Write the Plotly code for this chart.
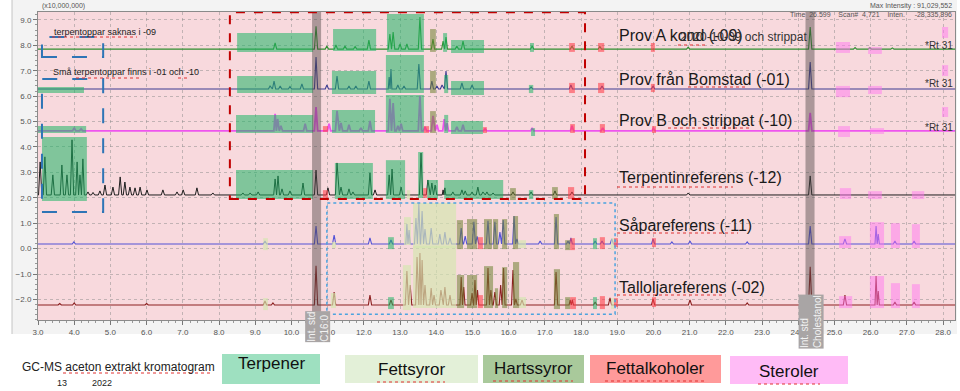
import plotly.graph_objects as go

# ---------------- axis extents ----------------
RT_MIN, RT_MAX = 3.0, 28.33          # retention time, min
INT_MIN, INT_MAX = -2.81, 9.31       # intensity, x10,000,000

# ---------------- stacked chromatogram baselines ----------------
base_prov_a = 7.85
base_bomstad = 6.28
base_prov_b = 4.63
base_terpentin = 2.11
base_sapa = 0.18
base_tallolja = -2.22

# ---------------- peaks: retention time (min) / height (x10,000,000) ----------------
prov_a_rt = [9.55, 10.68, 10.98, 11.23, 11.48, 11.76, 12.14, 12.72, 12.81, 13.00, 13.19, 13.55,
             13.91, 14.19, 14.27, 14.57, 14.74, 16.65, 17.75, 18.52, 20.96, 24.33, 25.57, 25.98, 26.60]
prov_a_h = [0.24, 0.90, 0.12, 0.16, 0.12, 0.10, 0.35, 0.59, 0.67, 0.20, 0.20, 1.26,
            0.39, 0.31, 0.47, 0.12, 0.31, 0.12, 0.12, 0.10, 0.08, 0.87, 0.06, 0.06, 0.05]

bomstad_rt = [9.41, 9.52, 9.69, 9.96, 10.29, 10.68, 10.98, 11.26, 11.59, 11.78, 12.14, 12.70, 12.75,
              12.94, 13.11, 13.52, 13.88, 14.02, 14.16, 14.27, 14.71, 14.99, 16.62, 17.72, 18.58,
              19.99, 24.33]
bomstad_h = [0.12, 0.31, 0.12, 0.10, 0.20, 1.26, 0.16, 0.51, 0.12, 0.12, 0.31, 0.47, 0.79,
             0.16, 0.12, 0.98, 0.31, 0.12, 0.16, 0.71, 0.24, 0.16, 0.08, 0.16, 0.12,
             0.12, 1.06]

prov_b_rt = [4.00, 4.19, 9.55, 9.62, 9.71, 10.38, 10.68, 11.04, 11.26, 11.37, 11.59, 11.92, 12.17,
             12.72, 12.81, 12.94, 13.03, 13.55, 13.69, 13.91, 14.02, 14.22, 14.30, 14.57, 14.74,
             15.35, 16.65, 17.75, 18.60, 20.00, 24.33]
prov_b_h = [0.12, 0.08, 0.67, 0.47, 0.20, 0.28, 0.94, 0.28, 0.79, 0.31, 0.24, 0.12, 0.39,
            1.26, 1.10, 0.20, 0.28, 1.38, 0.16, 0.59, 0.24, 0.47, 0.31, 0.16, 0.24,
            0.08, 0.12, 0.20, 0.12, 0.10, 0.71]

terpentin_rt = [3.06, 3.19, 3.41, 3.66, 3.80, 3.94, 4.08, 4.16, 4.24, 4.38, 4.52, 4.71, 4.85, 5.07,
                5.27, 5.40, 5.54, 5.68, 5.82, 6.01, 6.45, 6.84, 7.01, 7.39, 7.83, 8.66, 8.86, 9.08,
                9.55, 9.63, 9.74, 9.96, 10.32, 10.68, 11.01, 11.26, 11.37, 11.59, 11.70, 12.17,
                12.31, 12.70, 12.78, 13.03, 13.58, 13.77, 13.88, 13.97, 14.19, 14.24, 14.46, 14.71,
                14.80, 14.99, 15.15, 15.29, 15.40, 15.57, 16.12, 16.62, 17.28, 17.75, 20.96, 24.33]
terpentin_h = [1.30, 1.50, 0.79, 1.18, 0.79, 2.17, 1.30, 0.79, 1.42, 0.12, 0.10, 0.16, 0.39, 0.31,
               0.71, 0.51, 0.31, 0.28, 0.31, 0.20, 0.20, 0.12, 0.20, 0.28, 0.08, 0.08, 0.08, 0.12,
               0.63, 0.75, 0.24, 0.16, 0.47, 0.98, 0.28, 1.26, 0.31, 0.24, 0.12, 0.87,
               0.20, 0.79, 1.02, 0.31, 1.65, 0.59, 0.47, 0.39, 0.20, 0.28, 0.12, 0.20,
               0.16, 0.12, 0.31, 0.12, 0.12, 0.08, 0.12, 0.12, 0.16, 0.12, 0.08, 0.75]

sapa_rt = [3.99, 9.27, 10.68, 11.18, 12.17, 12.75, 13.19, 13.25, 13.44, 13.52, 13.61, 13.69, 13.86,
           14.10, 14.24, 14.38, 14.69, 14.80, 15.04, 15.13, 15.43, 15.62, 15.76, 15.85, 16.15,
           16.23, 16.87, 17.31, 17.64, 17.72, 18.39, 18.58, 18.85, 19.99, 20.51, 21.01, 22.59,
           24.33, 25.29, 26.15, 26.21, 26.67, 27.20]
sapa_h = [0.08, 0.12, 0.71, 0.35, 0.24, 0.16, 0.79, 0.55, 1.02, 1.57, 1.30, 0.59, 0.63,
          0.39, 0.47, 0.24, 0.63, 0.31, 0.87, 0.30, 0.91, 0.87, 0.47, 0.94, 1.10,
          0.20, 0.12, 1.06, 0.12, 0.24, 0.12, 0.12, 0.20, 0.20, 0.08, 0.12, 0.08,
          0.71, 0.20, 0.71, 0.39, 0.12, 0.12]

tallolja_rt = [3.60, 4.00, 6.00, 9.27, 9.49, 10.68, 11.18, 12.17, 12.75, 13.19, 13.28, 13.47, 13.55,
               13.61, 13.69, 13.86, 13.94, 14.13, 14.24, 14.38, 14.69, 14.76, 14.99, 15.07, 15.14,
               15.43, 15.51, 15.62, 15.78, 15.86, 16.12, 16.20, 16.37, 17.31, 17.70, 17.76, 18.39,
               18.80, 19.99, 21.01, 22.59, 24.33, 25.29, 26.15, 26.21, 26.67, 27.20]
tallolja_h = [0.06, 0.08, 0.06, 0.16, 0.08, 1.54, 0.51, 0.39, 0.20, 1.34, 0.79, 1.89, 2.05,
              1.77, 0.79, 0.67, 0.39, 0.59, 0.71, 0.39, 1.10, 0.71, 0.47, 0.98, 0.59,
              1.46, 0.59, 0.51, 0.79, 1.46, 1.38, 0.24, 0.20, 1.30, 0.20, 0.20, 0.12,
              0.28, 0.24, 0.20, 0.08, 1.50, 0.39, 1.14, 0.55, 0.12, 0.12]

series_names = ["Prov A kond (-09)", "Prov från Bomstad (-01)", "Prov B och strippat (-10)",
                "Terpentinreferens (-12)", "Såpareferens (-11)", "Talloljareferens (-02)"]
series_colors = ["#2f8f2f", "#3c3c92", "#ee55ee", "#1e1e1e", "#5252d6", "#8c2020"]
series_widths = [1.1, 1.1, 1.8, 1.0, 1.1, 1.1]
series_bases = [base_prov_a, base_bomstad, base_prov_b, base_terpentin, base_sapa, base_tallolja]
series_rt = [prov_a_rt, bomstad_rt, prov_b_rt, terpentin_rt, sapa_rt, tallolja_rt]
series_h = [prov_a_h, bomstad_h, prov_b_h, terpentin_h, sapa_h, tallolja_h]

# ---------------- compound-class regions (rt0, rt1, int0, int1) ----------------
terpener_boxes = [
    (8.50, 10.60, 7.74, 8.48), (11.15, 12.34, 7.78, 8.64), (12.64, 13.66, 7.74, 9.23),
    (14.19, 14.30, 7.74, 8.48), (14.41, 15.32, 7.70, 8.21), (16.59, 16.70, 7.74, 8.09),
    (3.00, 4.27, 6.12, 6.36), (8.50, 10.60, 6.12, 6.79), (11.12, 12.34, 6.08, 6.99),
    (12.61, 13.66, 6.12, 7.62), (14.22, 14.33, 6.12, 6.83), (14.41, 15.32, 6.04, 6.59),
    (16.56, 16.68, 6.12, 6.44),
    (3.00, 4.33, 4.55, 4.82), (8.47, 10.60, 4.55, 5.26), (11.12, 12.31, 4.55, 5.45),
    (12.61, 13.66, 4.55, 6.04), (14.22, 14.33, 4.55, 5.26), (14.41, 15.29, 4.51, 5.02),
    (16.62, 16.73, 4.43, 4.74),
    (3.11, 4.35, 1.87, 4.39), (8.47, 10.60, 1.95, 3.09), (11.20, 12.25, 1.95, 3.37),
    (12.61, 13.14, 1.95, 3.48), (13.50, 13.64, 1.99, 3.80), (13.75, 14.05, 1.95, 2.70),
    (14.22, 15.85, 1.95, 2.70), (16.56, 16.68, 1.95, 2.30),
    (12.67, 12.83, -0.02, 0.45), (18.33, 18.44, -0.02, 0.41),
    (12.67, 12.83, -2.38, -1.91), (18.33, 18.44, -2.38, -1.91),
]
fettsyror_boxes = [
    (13.19, 13.28, 1.95, 2.30),
    (9.22, 9.35, -0.06, 0.41), (11.12, 11.23, 0.02, 0.26), (13.11, 13.30, 0.14, 1.24),
    (13.36, 14.55, 0.02, 1.79), (16.26, 16.48, 0.02, 0.33), (18.83, 18.91, -0.06, 0.41),
    (9.22, 9.35, -2.42, -1.95), (11.09, 11.23, -2.34, -1.75), (13.08, 13.30, -2.42, -0.65),
    (13.36, 14.55, -2.34, 0.10), (16.29, 16.48, -2.34, -1.91), (18.83, 18.91, -2.38, -1.95),
]
hartssyror_boxes = [
    (13.83, 13.99, 7.74, 8.64), (13.83, 13.99, 6.12, 6.99), (13.83, 13.99, 4.55, 5.41),
    (16.04, 16.20, 1.91, 2.38), (17.20, 17.36, 1.95, 2.42),
    (14.57, 14.74, -0.02, 1.12), (14.85, 15.13, -0.02, 1.16), (15.32, 15.54, -0.02, 1.16),
    (15.57, 15.71, -0.02, 1.16), (15.82, 15.96, -0.02, 1.16), (16.12, 16.26, -0.02, 1.28),
    (17.25, 17.39, -0.02, 1.36), (17.56, 17.70, -0.06, 0.33),
    (14.57, 14.77, -2.34, -1.04), (14.85, 15.13, -2.34, -1.04), (15.32, 15.57, -2.34, -0.69),
    (15.62, 15.71, -2.34, -1.56), (15.82, 15.96, -2.34, -0.73), (16.12, 16.29, -2.34, -0.53),
    (17.25, 17.42, -2.38, -0.81), (17.56, 17.70, -2.38, -1.91),
]
fettalkoholer_boxes = [
    (17.67, 17.83, 7.74, 8.09), (18.47, 18.64, 7.74, 8.09), (19.93, 20.04, 7.74, 8.09),
    (17.67, 17.83, 6.12, 6.52), (18.47, 18.64, 6.12, 6.52), (19.93, 20.04, 6.16, 6.48),
    (10.87, 11.01, 4.59, 4.82), (13.66, 13.80, 4.55, 4.82), (15.29, 15.40, 4.55, 4.78),
    (17.70, 17.83, 4.55, 4.90), (18.52, 18.66, 4.55, 4.90), (19.96, 20.07, 4.55, 4.82),
    (10.87, 11.01, 1.95, 2.30), (13.64, 13.75, 1.99, 2.38), (17.64, 17.81, 1.95, 2.42),
    (15.15, 15.29, -0.02, 0.45), (17.70, 17.83, -0.06, 0.41), (18.52, 18.66, -0.02, 0.45),
    (18.91, 19.02, 0.06, 0.41), (19.96, 20.07, 0.06, 0.41),
    (15.15, 15.29, -2.34, -1.83), (17.70, 17.86, -2.38, -1.91), (18.52, 18.66, -2.38, -1.87),
    (18.91, 19.02, -2.30, -1.95), (19.96, 20.07, -2.30, -1.91),
]
steroler_boxes = [
    (25.04, 25.43, 7.70, 8.13), (25.93, 26.31, 7.66, 7.93), (27.97, 28.14, 8.29, 8.72),
    (25.04, 25.43, 5.96, 6.40), (25.93, 26.31, 6.08, 6.40), (27.97, 28.14, 6.79, 7.22),
    (25.10, 25.43, 4.39, 4.82), (25.98, 26.37, 4.51, 4.74), (27.97, 28.14, 5.18, 5.57),
    (25.15, 25.46, 1.95, 2.38), (25.93, 26.31, 1.95, 2.26), (27.14, 27.48, 1.95, 2.26),
    (25.13, 25.46, 0.02, 0.49), (25.98, 26.37, 0.02, 1.04), (26.56, 26.81, 0.02, 1.00),
    (27.14, 27.36, 0.02, 0.96),
    (25.13, 25.49, -2.34, -1.87), (25.98, 26.37, -2.34, -1.08), (26.56, 26.81, -2.34, -1.36),
    (27.14, 27.36, -2.34, -1.40),
]
internal_std_rt = [(10.57, 10.82), (24.20, 24.45)]
internal_std_names = ["Int. std<br>C16:0", "Int. std<br>Cholestanol"]

# highlight frames (rt0, rt1, int0, int1)
terp_frame_red = (8.30, 18.11, 1.95, 9.30)
blue_frame_1 = (3.11, 4.80, 7.54, 8.33)
blue_frame_2 = (3.11, 4.80, 1.44, 6.67)
dotted_frame = (10.98, 18.94, -2.58, 1.79)

legend_names = ["Terpener", "Fettsyror", "Hartssyror", "Fettalkoholer", "Steroler"]
legend_colors = ["#9ee0c0", "#e3f0d8", "#a9c99b", "#ff9a9a", "#ffbbf6"]
box_colors = ["rgba(30,180,100,0.55)", "rgba(212,230,175,0.68)", "rgba(110,130,50,0.55)",
              "rgba(255,60,70,0.58)", "rgba(255,120,240,0.5)"]
box_groups = [terpener_boxes, fettsyror_boxes, hartssyror_boxes, fettalkoholer_boxes, steroler_boxes]

FONT = "Liberation Sans, Arial, sans-serif"
W, H = 960, 391
ML, MR, MT, MB = 38, 5, 12, 71
PW, PH = W - ML - MR, H - MT - MB


def px(x):
    return (x - ML) / PW


def py(y):
    return (H - MB - y) / PH


def chromatogram(base, rts, hs):
    pk = sorted(zip(rts, hs))
    xs, ys = [RT_MIN], [base]
    for i, (t, h) in enumerate(pk):
        gl = t - pk[i - 1][0] if i > 0 else 1.0
        gr = pk[i + 1][0] - t if i < len(pk) - 1 else 1.0
        w = min(0.045, gl / 2, gr / 2)
        xs += [t - w, t, t + w]
        ys += [base, base + h, base]
    xs.append(RT_MAX)
    ys.append(base)
    return xs, ys


fig = go.Figure()
for name, col, lw, base, rts, hs in zip(series_names, series_colors, series_widths,
                                        series_bases, series_rt, series_h):
    xs, ys = chromatogram(base, rts, hs)
    fig.add_trace(go.Scatter(x=xs, y=ys, mode="lines", name=name,
                             line=dict(color=col, width=lw), showlegend=False,
                             hoverinfo="skip"))

shapes = []
# screenshot frame + plot background
shapes.append(dict(type="rect", xref="paper", yref="paper", x0=px(12), x1=px(957), y0=py(334), y1=py(0),
                   fillcolor="#f3f3f3", line=dict(width=0), layer="below"))
shapes.append(dict(type="line", xref="paper", yref="paper", x0=px(12), x1=px(12), y0=py(334), y1=py(0),
                   line=dict(color="#c4c4c4", width=1), layer="below"))
shapes.append(dict(type="rect", xref="paper", yref="paper", x0=0, x1=1, y0=0, y1=1,
                   fillcolor="#f8d9dd", line=dict(width=0), layer="below"))

for grp, col in zip(box_groups, box_colors):
    for (t0, t1, v0, v1) in grp:
        shapes.append(dict(type="rect", xref="x", yref="y", x0=t0, x1=t1, y0=v0, y1=v1,
                           fillcolor=col, line=dict(width=0), layer="above"))

for (t0, t1) in internal_std_rt:
    shapes.append(dict(type="rect", xref="x", yref="y", x0=t0, x1=t1, y0=INT_MIN, y1=INT_MAX,
                       fillcolor="rgba(80,70,70,0.45)", line=dict(width=0), layer="above"))

t0, t1, v0, v1 = terp_frame_red
shapes.append(dict(type="rect", xref="x", yref="y", x0=t0, x1=t1, y0=v0, y1=v1,
                   line=dict(color="#c00000", width=2, dash="dash"), layer="above"))
for fr in (blue_frame_1, blue_frame_2):
    t0, t1, v0, v1 = fr
    shapes.append(dict(type="rect", xref="x", yref="y", x0=t0, x1=t1, y0=v0, y1=v1,
                       line=dict(color="#2e75b6", width=2, dash="longdash"), layer="above"))
t0, t1, v0, v1 = dotted_frame
shapes.append(dict(type="rect", xref="x", yref="y", x0=t0, x1=t1, y0=v0, y1=v1,
                   line=dict(color="#4aa3df", width=1.5, dash="dot"), layer="above"))

# bottom legend boxes (pixel layout)
leg_boxes = [(222, 320, 354, 384), (345, 478, 355, 383), (483, 584, 355, 383),
             (590, 721, 355, 383), (730, 848, 356, 384)]
leg_text_y = [363, 369, 368, 368, 371]
annotations = []
for (x0, x1, y0, y1), col, name, ty in zip(leg_boxes, legend_colors, legend_names, leg_text_y):
    shapes.append(dict(type="rect", xref="paper", yref="paper", x0=px(x0), x1=px(x1),
                       y0=py(y1), y1=py(y0), fillcolor=col, line=dict(width=0), layer="above"))
    annotations.append(dict(xref="paper", yref="paper", x=px((x0 + x1) / 2), y=py(ty),
                            text=name, showarrow=False, xanchor="center", yanchor="middle",
                            font=dict(family=FONT, size=17, color="#111")))

# red spell-check underlines (pixel layout: x0, x1, y)
squiggles = [(52, 137, 37), (76, 142, 78), (178, 190, 78), (678, 707, 45), (688, 747, 87),
             (668, 752, 128), (617, 733, 187), (617, 738, 233), (617, 723, 295),
             (63, 213, 373), (377, 445, 382), (493, 573, 381), (605, 707, 381), (758, 820, 384)]
for (x0, x1, y) in squiggles:
    shapes.append(dict(type="line", xref="paper", yref="paper", x0=px(x0), x1=px(x1),
                       y0=py(y), y1=py(y), line=dict(color="#e03030", width=1, dash="dot"),
                       layer="above"))

# series labels
label_y = [8.37, 6.67, 5.06, 2.78, 0.89, -1.52]
for name, ly in zip(series_names, label_y):
    annotations.append(dict(x=18.99, y=ly, xref="x", yref="y", text=name, showarrow=False,
                            xanchor="left", yanchor="middle",
                            font=dict(family=FONT, size=16, color="#1a1a1a")))
annotations.append(dict(x=20.68, y=8.33, xref="x", yref="y", text="2020-10-09 och strippat",
                        showarrow=False, xanchor="left", yanchor="middle",
                        font=dict(family=FONT, size=12, color="#333")))
for ly in [8.01, 6.48, 4.78]:
    annotations.append(dict(x=RT_MAX, y=ly, xref="x", yref="y", text="*Rt 31", showarrow=False,
                            xanchor="right", yanchor="middle",
                            font=dict(family=FONT, size=10, color="#333")))
annotations.append(dict(x=3.39, y=8.52, xref="x", yref="y", text="terpentoppar saknas i -09",
                        showarrow=False, xanchor="left", yanchor="middle",
                        font=dict(family=FONT, size=9, color="#222")))
annotations.append(dict(x=3.36, y=6.95, xref="x", yref="y", text="Små terpentoppar finns i -01 och -10",
                        showarrow=False, xanchor="left", yanchor="middle",
                        font=dict(family=FONT, size=9, color="#222")))

# internal standard labels
for (t0, t1), nm, cy in zip(internal_std_rt, internal_std_names, [327, 322]):
    annotations.append(dict(x=(t0 + t1) / 2 + 0.03, y=py(cy), xref="x", yref="paper", text=nm,
                            showarrow=False, textangle=-90, xanchor="center", yanchor="middle",
                            align="left", bgcolor="#a9a5a5", borderpad=0,
                            font=dict(family=FONT, size=10, color="#f2f2f2")))

# header texts
annotations.append(dict(xref="paper", yref="paper", x=px(40), y=py(6), text="(x10,000,000)",
                        showarrow=False, xanchor="left", yanchor="middle",
                        font=dict(family=FONT, size=7, color="#555")))
annotations.append(dict(xref="paper", yref="paper", x=px(954), y=py(6), text="Max Intensity : 91,029,552",
                        showarrow=False, xanchor="right", yanchor="middle",
                        font=dict(family=FONT, size=7, color="#555")))
annotations.append(dict(xref="paper", yref="paper", x=px(954), y=py(15),
                        text="Time  26.599    Scan#  4,721    Inten.     -28,335,896",
                        showarrow=False, xanchor="right", yanchor="middle",
                        font=dict(family=FONT, size=7, color="#555")))

# footer
annotations.append(dict(xref="paper", yref="paper", x=px(20), y=py(367),
                        text="GC-MS aceton extrakt kromatogram", showarrow=False,
                        xanchor="left", yanchor="middle", font=dict(family=FONT, size=12, color="#222")))
annotations.append(dict(xref="paper", yref="paper", x=px(55), y=py(383), text="13",
                        showarrow=False, xanchor="left", yanchor="middle",
                        font=dict(family=FONT, size=9, color="#222")))
annotations.append(dict(xref="paper", yref="paper", x=px(90), y=py(383), text="2022",
                        showarrow=False, xanchor="left", yanchor="middle",
                        font=dict(family=FONT, size=9, color="#222")))

axis_common = dict(showgrid=True, gridcolor="rgba(140,140,140,0.5)", griddash="dot", gridwidth=1,
                   zeroline=False, showline=True, linecolor="#8a8a8a", mirror=True,
                   ticks="outside", ticklen=4, tickcolor="#777", tickformat=".1f", dtick=1,
                   tickfont=dict(family=FONT, size=8, color="#555"),
                   minor=dict(dtick=0.2, ticks="outside", ticklen=2, tickcolor="#999"))

fig.update_layout(
    width=W, height=H, margin=dict(l=ML, r=MR, t=MT, b=MB),
    paper_bgcolor="white", plot_bgcolor="#f8d9dd",
    xaxis=dict(range=[RT_MIN, RT_MAX], tick0=0, **axis_common),
    yaxis=dict(range=[INT_MIN, INT_MAX], tick0=0, **axis_common),
    shapes=shapes, annotations=annotations, showlegend=False,
)

fig.write_html("out.html", config={"displayModeBar": False},
               post_script="document.body.style.margin='0px';document.body.style.overflow='hidden';")
